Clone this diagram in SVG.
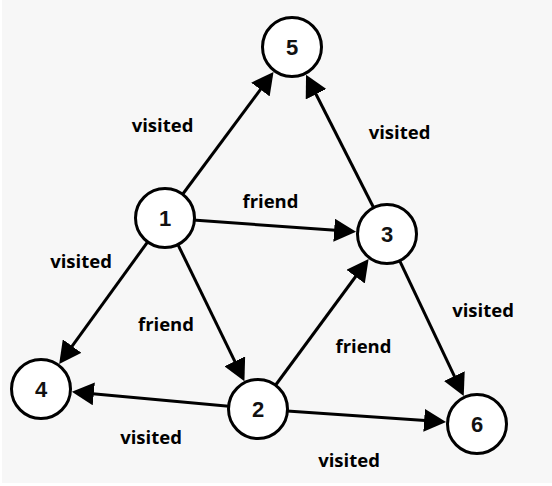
<svg xmlns="http://www.w3.org/2000/svg" width="552" height="486" viewBox="0 0 552 486">
<style>
.bg{fill:#f7f7f7}
.edge{stroke:#000;stroke-width:3;fill:none;marker-end:url(#arr)}
.node circle{fill:#fff;stroke:#000;stroke-width:3}
.node text{font-family:"Liberation Sans",Arial,sans-serif;font-weight:bold;font-size:22px;text-anchor:middle;fill:#111}
.lbl{font-family:"Open Sans","Liberation Sans",sans-serif;font-weight:bold;font-size:18.5px;text-anchor:middle;fill:#000}
</style>
<defs>
<marker id="arr" markerUnits="userSpaceOnUse" viewBox="0 0 22 23" markerWidth="22" markerHeight="23" refX="12" refY="11.5" orient="auto">
<path d="M0,0 L22,11.5 L0,23 z" fill="#000"/>
</marker>
</defs>
<rect width="552" height="486" fill="#fff"/>
<rect class="bg" x="2" y="0" width="550" height="483"/>
<g id="connectors">
<line class="edge" x1="165" y1="218" x2="267.56" y2="79.91"/>
<line class="edge" x1="387" y1="234" x2="310.57" y2="83.55"/>
<line class="edge" x1="165" y1="218" x2="346.11" y2="231.05"/>
<line class="edge" x1="165" y1="218" x2="65.07" y2="355.81"/>
<line class="edge" x1="165" y1="218" x2="240.05" y2="372.14"/>
<line class="edge" x1="258" y1="409" x2="362.67" y2="267"/>
<line class="edge" x1="258" y1="409" x2="81.83" y2="392.76"/>
<line class="edge" x1="258" y1="409" x2="436.1" y2="421.2"/>
<line class="edge" x1="387" y1="234" x2="459.45" y2="386.95"/>
<text class="lbl" x="162.5" y="132">visited</text>
<text class="lbl" x="399.5" y="139">visited</text>
<text class="lbl" x="270.5" y="208">friend</text>
<text class="lbl" x="81" y="268">visited</text>
<text class="lbl" x="166" y="330.5">friend</text>
<text class="lbl" x="363.5" y="353">friend</text>
<text class="lbl" x="483" y="316.5">visited</text>
<text class="lbl" x="349" y="466.5">visited</text>
<text class="lbl" x="151" y="444">visited</text>
</g>
<g id="node1" class="node"><circle cx="165" cy="218" r="29.5"/><text x="165" y="226">1</text></g>
<g id="node2" class="node"><circle cx="258" cy="409" r="29.5"/><text x="258" y="417">2</text></g>
<g id="node3" class="node"><circle cx="387" cy="234" r="29.5"/><text x="387" y="242">3</text></g>
<g id="node4" class="node"><circle cx="41" cy="389" r="29.5"/><text x="41" y="397">4</text></g>
<g id="node5" class="node"><circle cx="292" cy="47" r="29.5"/><text x="292" y="55">5</text></g>
<g id="node6" class="node"><circle cx="477" cy="424" r="29.5"/><text x="477" y="432">6</text></g>
</svg>
